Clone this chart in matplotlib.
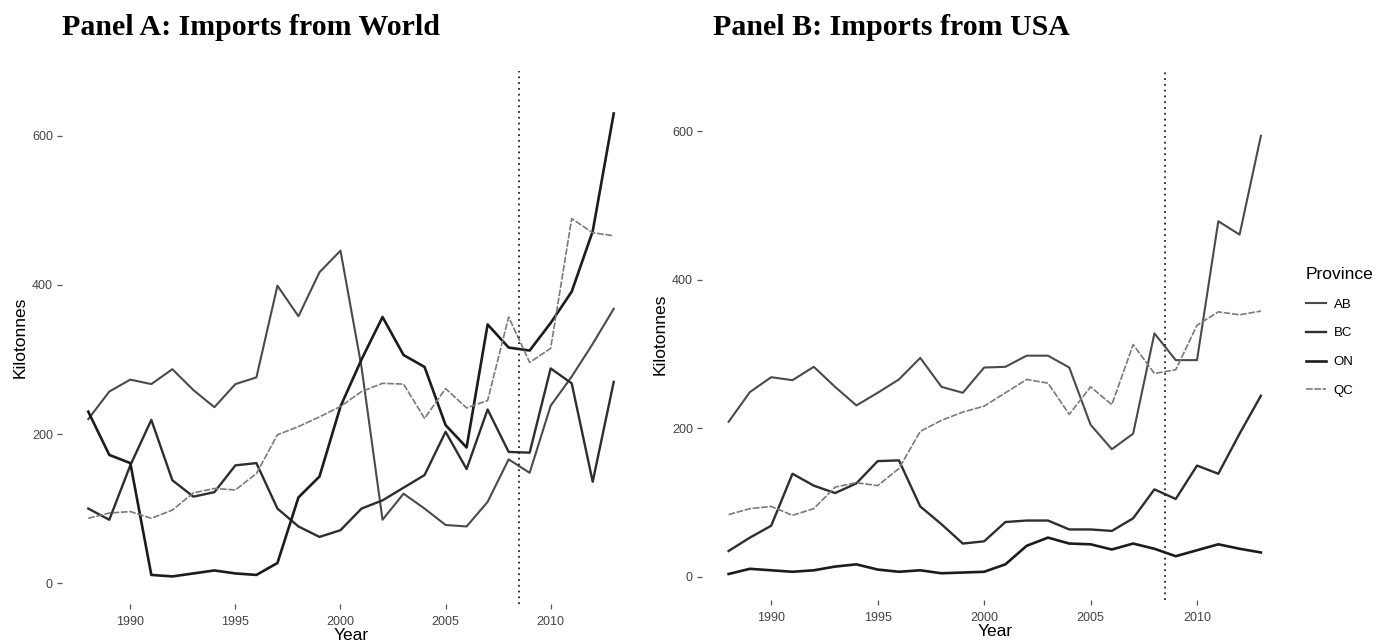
import matplotlib
matplotlib.use("Agg")
import matplotlib.pyplot as plt
from matplotlib.lines import Line2D

years = list(range(1988, 2014))
provinces = ["AB", "BC", "ON", "QC"]

# Panel A: imports from world (kilotonnes)
world_ab = [220, 257, 273, 267, 287, 259, 236, 267, 276, 399, 358, 417, 446,
            290, 85, 120, 100, 78, 76, 109, 166, 148, 238, 277, 321, 368]
world_bc = [100, 85, 158, 219, 138, 116, 122, 158, 161, 100, 76, 62, 71,
            100, 111, 128, 145, 203, 153, 233, 176, 175, 288, 268, 136, 270]
world_on = [230, 172, 161, 11, 9, 13, 17, 13, 11, 27, 115, 143, 237,
            300, 357, 306, 290, 212, 182, 347, 316, 312, 349, 391, 472, 630]
world_qc = [87, 94, 96, 87, 98, 121, 127, 125, 147, 199, 210, 223, 237,
            257, 268, 267, 221, 261, 235, 245, 357, 296, 315, 489, 470, 466]

# Panel B: imports from USA (kilotonnes)
usa_ab = [209, 249, 269, 265, 283, 256, 231, 248, 266, 295, 256, 248, 282,
          283, 298, 298, 282, 205, 172, 193, 328, 292, 292, 479, 461, 594]
usa_bc = [35, 53, 69, 139, 123, 113, 126, 156, 157, 95, 71, 45, 48,
          74, 76, 76, 64, 64, 62, 79, 118, 105, 150, 139, 193, 244]
usa_on = [4, 11, 9, 7, 9, 14, 17, 10, 7, 9, 5, 6, 7,
          17, 42, 53, 45, 44, 37, 45, 38, 28, 36, 44, 38, 33]
usa_qc = [84, 92, 95, 83, 92, 121, 127, 123, 146, 196, 211, 222, 230,
          248, 266, 261, 219, 256, 232, 313, 274, 279, 339, 357, 353, 358]

break_year = 2008.5
x_ticks = [1990, 1995, 2000, 2005, 2010]
y_ticks = [0, 200, 400, 600]

styles = {
    "AB": dict(color="#4a4a4a", lw=1.5),
    "BC": dict(color="#2e2e2e", lw=1.7),
    "ON": dict(color="#1c1c1c", lw=1.9),
    "QC": dict(color="#7a7a7a", lw=1.2, ls=(0, (4, 1))),
}

fig = plt.figure(figsize=(13.78, 6.44), dpi=100)
plt.rcParams["font.family"] = ["Liberation Sans", "DejaVu Sans"]

ax_a = fig.add_axes([62 / 1378, 40 / 644, 578 / 1378, 533 / 644])
ax_b = fig.add_axes([702 / 1378, 44 / 644, 585.5 / 1378, 531 / 644])


def draw_panel(ax, series, ylim, ypad):
    for prov, vals in zip(provinces, series):
        ax.plot(years, vals, label=prov, **styles[prov])
    ax.axvline(break_year, color="#222222", lw=1.3, ls=(0, (1, 2.2)))
    ax.set_xlim(1986.75, 2014.25)
    ax.set_ylim(*ylim)
    ax.set_xticks(x_ticks)
    ax.set_yticks(y_ticks)
    for s in ax.spines.values():
        s.set_visible(False)
    ax.tick_params(axis="both", length=3.5, width=0.9, color="#555555",
                   labelsize=9, labelcolor="#444444", pad=3)
    ax.tick_params(axis="x", pad=5)
    ax.set_xlabel("Year", fontsize=12.5, labelpad=0)
    ax.set_ylabel("Kilotonnes", fontsize=12.5, labelpad=ypad)


draw_panel(ax_a, [world_ab, world_bc, world_on, world_qc], (-28, 687), 3)
draw_panel(ax_b, [usa_ab, usa_bc, usa_on, usa_qc], (-31, 684), 3)

title_font = dict(family="Liberation Serif", weight="bold", fontsize=21.5,
                  va="baseline", ha="left")
fig.text(62 / 1378, 1 - 35 / 644, "Panel A: Imports from World", **title_font)
fig.text(713 / 1378, 1 - 35 / 644, "Panel B: Imports from USA", **title_font)

handles = [Line2D([], [], **styles[p]) for p in provinces]
leg = fig.legend(handles, provinces, title="Province", loc="upper left",
                 bbox_to_anchor=(1306 / 1378, 1 - 267 / 644), frameon=False,
                 fontsize=9.5, title_fontsize=12.5, handlelength=1.5,
                 handletextpad=0.6, labelspacing=1.25, borderpad=0,
                 borderaxespad=0)
leg._legend_box.align = "left"

fig.savefig("out.png", dpi=100, facecolor="white")
